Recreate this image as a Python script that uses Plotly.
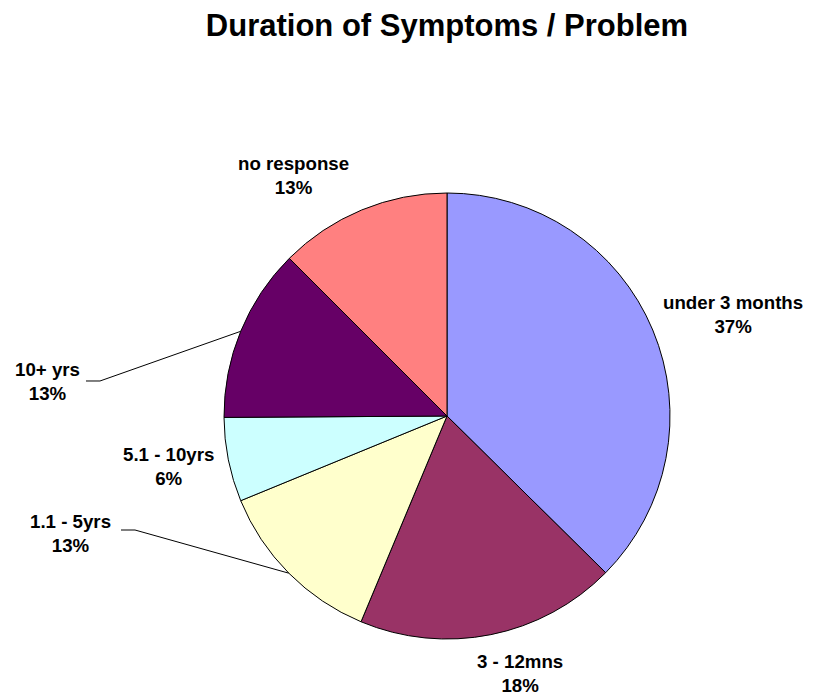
import math
import plotly.graph_objects as go

# page body adds an 8px margin, so the figure is a bit smaller and shifted
OFF = 8
W, H = 812, 688

labels = ["under 3 months", "3 - 12mns", "1.1 - 5yrs", "5.1 - 10yrs", "10+ yrs", "no response"]
values = [37.4, 18.9, 12.5, 6.1, 12.6, 12.5]
pct_text = ["37%", "18%", "13%", "6%", "13%", "13%"]
colors = ["#9999FF", "#993366", "#FFFFCC", "#CCFFFF", "#660066", "#FF8080"]

# label placement (pixel centre of the 2-line label, screen coords)
label_pos = {
    "under 3 months": (733, 314),
    "3 - 12mns": (520, 673),
    "1.1 - 5yrs": (70, 533),
    "5.1 - 10yrs": (168, 466),
    "10+ yrs": (47, 381),
    "no response": (293, 175),
}
leaders = {"10+ yrs": (100, 86, 381), "1.1 - 5yrs": (135, 121, 530)}

cx, cy, r = 447, 416, 223
FONT = "Liberation Sans, Arial, sans-serif"


def px(x):
    return (x - OFF) / W


def py(y):
    return 1 - (y - OFF) / H


fig = go.Figure(go.Pie(
    labels=labels,
    values=values,
    sort=False,
    direction="clockwise",
    rotation=0,
    marker=dict(colors=colors, line=dict(color="black", width=1)),
    textinfo="none",
    hoverinfo="label+percent",
    showlegend=False,
    domain=dict(x=[px(cx - r), px(cx + r)], y=[py(cy + r), py(cy - r)]),
))

annotations = []
shapes = []
total = sum(values)
cum = 0
for lab, v, pt in zip(labels, values, pct_text):
    mid = (cum + v / 2) / total * 2 * math.pi
    cum += v
    lx, ly = label_pos[lab]
    annotations.append(dict(
        x=px(lx), y=py(ly), xref="paper", yref="paper",
        text="<b>%s<br>%s</b>" % (lab, pt), showarrow=False,
        font=dict(family=FONT, size=18.7, color="black"),
        xanchor="center", yanchor="middle",
    ))
    if lab in leaders:
        ex, hx, hy = leaders[lab]
        sx = cx + r * math.sin(mid)
        sy = cy - r * math.cos(mid)
        shapes.append(dict(
            type="path", xref="paper", yref="paper",
            path="M %f,%f L %f,%f L %f,%f" % (px(sx), py(sy), px(ex), py(hy), px(hx), py(hy)),
            line=dict(color="black", width=1),
        ))

fig.update_layout(
    width=W, height=H,
    margin=dict(l=0, r=0, t=0, b=0),
    paper_bgcolor="white",
    plot_bgcolor="white",
    title=dict(
        text="<b>Duration of Symptoms / Problem</b>",
        x=px(447), xanchor="center",
        y=py(25), yanchor="middle", yref="container",
        font=dict(family=FONT, size=31, color="black"),
    ),
    annotations=annotations,
    shapes=shapes,
)

fig.write_html("out.html")
